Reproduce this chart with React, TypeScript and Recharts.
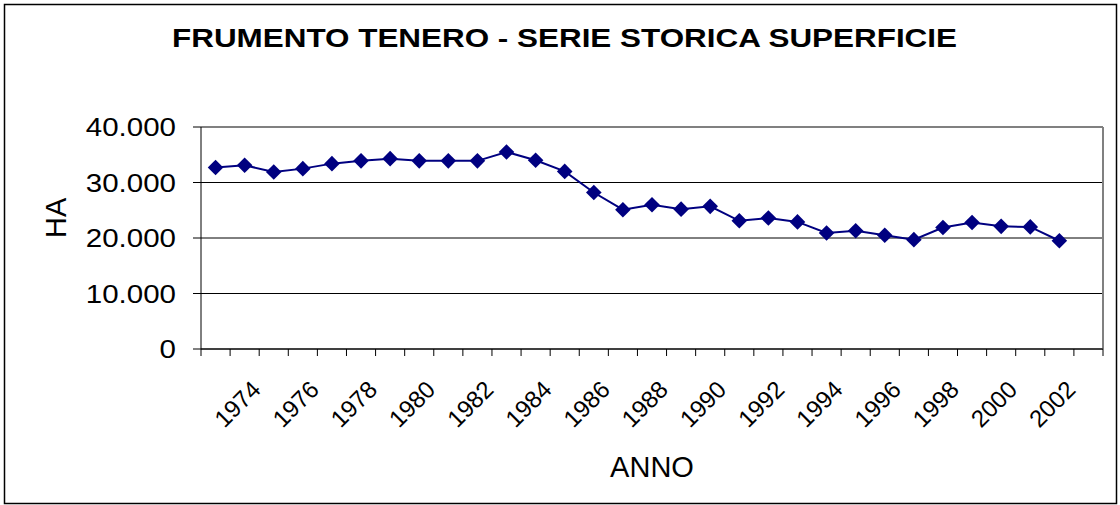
import React from "react";
import { CartesianGrid, Line, LineChart, ReferenceLine, XAxis, YAxis } from "recharts";

const years = [
  1973, 1974, 1975, 1976, 1977, 1978, 1979, 1980, 1981, 1982, 1983, 1984, 1985, 1986, 1987, 1988,
  1989, 1990, 1991, 1992, 1993, 1994, 1995, 1996, 1997, 1998, 1999, 2000, 2001, 2002, 2003,
];
const hectares = [
  32700, 33100, 31900, 32500, 33400, 33900, 34300, 33900, 33900, 33900, 35500, 34000, 32000, 28200, 25100,
  26000, 25200, 25700, 23100, 23600, 22900, 20900, 21300, 20500, 19700, 21900, 22800, 22100, 22000, 19500,
];
const labelledYears = [1974, 1976, 1978, 1980, 1982, 1984, 1986, 1988, 1990, 1992, 1994, 1996, 1998, 2000, 2002];
const yTicks = [0, 10000, 20000, 30000, 40000];

const TITLE = "FRUMENTO TENERO - SERIE STORICA SUPERFICIE";
const FONT = "'Liberation Sans', Arial, sans-serif";
const NAVY = "#000080";

const data = hectares.map((ha, i) => ({ year: years[i], ha }));
// category boundaries, where Excel puts the tick marks
const boundaries = [...years.map((y) => y - 0.5), years[years.length - 1] + 0.5];

const fmt = (v: number) => v.toLocaleString("it-IT").replace(/\s/g, ".");

function YTick(props: any) {
  const { x, y, payload } = props;
  return (
    <text transform={`translate(${x},${y}) scale(1.18,1)`} textAnchor="end" dy="0.36em" fontSize={25} fontFamily={FONT} fill="#000">
      {fmt(payload.value)}
    </text>
  );
}

// label sits just left of the boundary that closes its year
function XTick(props: any) {
  const { x, y, payload } = props;
  const year = payload.value - 0.5;
  if (!labelledYears.includes(year)) return null;
  const px = x + 3;
  const py = y + 35;
  return (
    <text x={px} y={py} transform={`rotate(-45, ${px}, ${py})`} textAnchor="end" fontSize={24} fontFamily={FONT} fill="#000">
      {year}
    </text>
  );
}

function Diamond(props: any) {
  const { cx, cy } = props;
  if (cx == null || cy == null) return null;
  const r = 7.8;
  return <polygon points={`${cx},${cy - r} ${cx + r},${cy} ${cx},${cy + r} ${cx - r},${cy}`} fill={NAVY} />;
}

export default function App() {
  return (
    <div style={{ position: "absolute", left: 0, top: 0, width: 1120, height: 505, background: "#fff" }}>
      <LineChart width={1120} height={505} data={data} margin={{ top: 127, right: 17, bottom: 0, left: 0 }}>
        <CartesianGrid vertical={false} stroke="#000" strokeWidth={1} />
        <XAxis
          dataKey="year"
          type="number"
          domain={[boundaries[0], boundaries[boundaries.length - 1]]}
          ticks={boundaries}
          interval={0}
          height={156}
          stroke="#000"
          tickSize={7}
          tickMargin={0}
          tick={<XTick />}
          label={{ value: "ANNO", position: "insideBottom", offset: 28, fontSize: 29, fontFamily: FONT, fill: "#000" }}
        />
        <YAxis
          domain={[0, 40000]}
          ticks={yTicks}
          width={201}
          stroke="#000"
          tickSize={8}
          tickMargin={17}
          tick={<YTick />}
          label={{ value: "HA", angle: -90, position: "insideLeft", offset: 56, fontSize: 29, fontFamily: FONT, fill: "#000" }}
        />
        <ReferenceLine y={40000} stroke="#808080" strokeWidth={2} />
        <ReferenceLine x={boundaries[boundaries.length - 1]} stroke="#808080" strokeWidth={2} />
        <Line
          dataKey="ha"
          stroke={NAVY}
          strokeWidth={2}
          dot={<Diamond />}
          activeDot={false}
          isAnimationActive={false}
        />
      </LineChart>
      <svg width={1120} height={505} style={{ position: "absolute", left: 0, top: 0, pointerEvents: "none" }}>
        <rect x={4.5} y={4.5} width={1112} height={499} fill="none" stroke="#000" strokeWidth={1.5} />
        <text
          x={172}
          y={47}
          textLength={785}
          lengthAdjust="spacingAndGlyphs"
          fontSize={26}
          fontWeight="bold"
          fontFamily={FONT}
          fill="#000"
        >
          {TITLE}
        </text>
      </svg>
    </div>
  );
}
